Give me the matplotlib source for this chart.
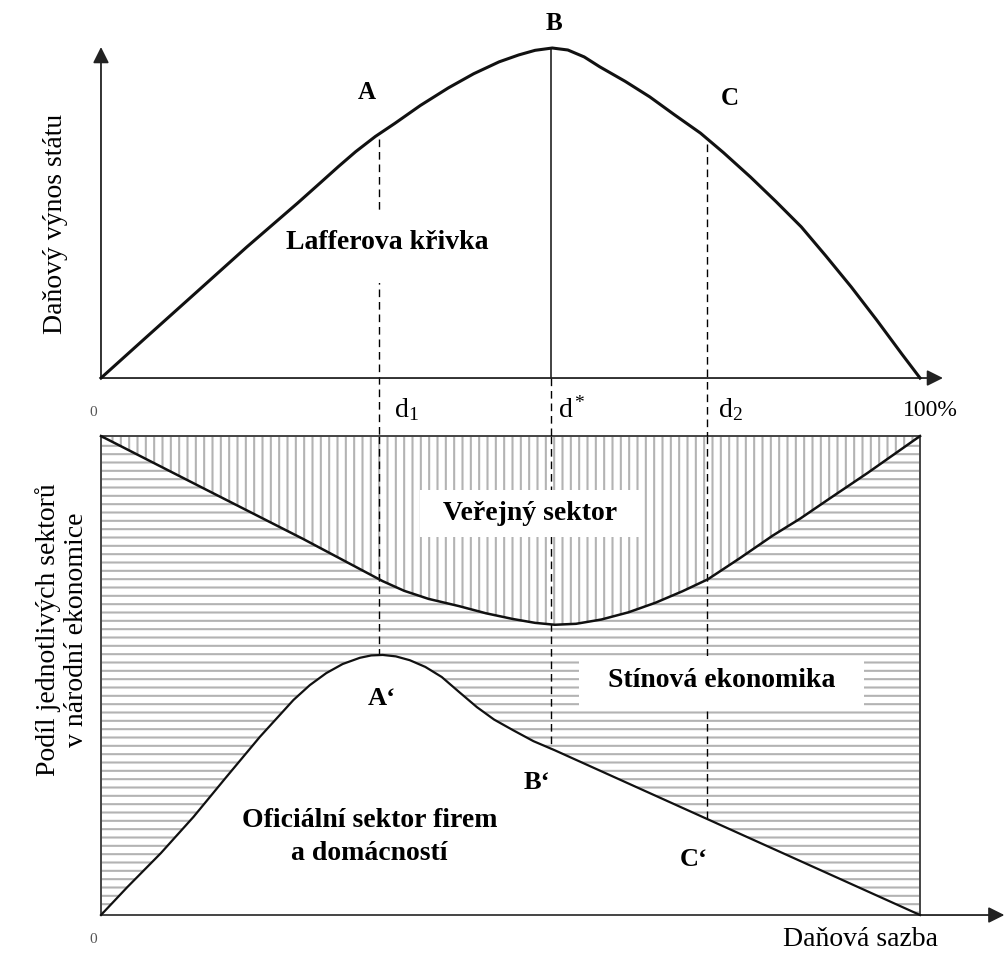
import numpy as np
import matplotlib.pyplot as plt
from matplotlib.patches import Rectangle

plt.rcParams['font.family'] = ['Liberation Serif', 'DejaVu Serif']
plt.rcParams['mathtext.fontset'] = 'custom'
plt.rcParams['mathtext.rm'] = 'Liberation Serif'
plt.rcParams['mathtext.it'] = 'Liberation Serif:italic'
plt.rcParams['hatch.linewidth'] = 1.5
plt.rcParams['hatch.color'] = '#b3b3b3'

# Horni graf - Lafferova krivka (danova sazba v %, vynos v % maxima)
sazba_laffer = [0, 5.5, 11.7, 17.8, 24.0, 26.8, 29.0, 31.1, 33.5, 35.9, 39.0,
                42.4, 45.5, 48.6, 51.0, 53.0, 55.1, 57.0, 59.0, 60.9, 64.0,
                67.0, 70.0, 73.2, 76.0, 79.3, 82.4, 85.5, 88.5, 91.6, 94.7,
                97.8, 100]
vynos = [0, 12.3, 26.1, 39.7, 53.0, 59.2, 64.1, 68.6, 73.2, 77.2, 82.6,
         87.9, 92.2, 95.8, 97.9, 99.3, 100, 99.4, 97.3, 94.3, 89.9,
         85.2, 79.8, 74.2, 68.3, 60.9, 53.5, 45.8, 37.0, 27.6, 17.6,
         7.2, 0]

# Dolni graf - hranice verejneho sektoru (shora) a oficialniho sektoru (zdola)
sazba_verejny = [0, 12.5, 24.7, 34.4, 37.0, 40.0, 43.7, 47.0, 50.3, 53.0,
                 55.4, 58.0, 61.1, 64.4, 67.7, 71.0, 74.1, 78.0, 82.0, 85.4,
                 89.0, 93.6, 100]
hranice_verejny = [100, 89.1, 78.5, 69.7, 67.7, 66.0, 64.5, 63.0, 61.8, 61.0,
                   60.6, 60.8, 61.7, 63.2, 65.2, 67.6, 70.1, 74.5, 79.2, 82.8,
                   87.0, 92.3, 100]
sazba_oficialni = [0, 3.2, 7.3, 11.3, 15.3, 19.4, 23.5, 25.5, 27.5, 29.5,
                   31.6, 33.0, 34.4, 36.0, 37.7, 39.6, 41.6, 43.7, 45.9, 48.0,
                   50.3, 52.8, 55.4, 100]
podil_oficialni = [0, 5.8, 12.9, 20.5, 28.8, 37.2, 44.9, 48.0, 50.5, 52.4,
                   53.7, 54.2, 54.3, 54.0, 53.2, 51.8, 49.7, 46.6, 43.4, 40.8,
                   38.6, 36.3, 34.4, 0]

d1, d_opt, d2 = 34, 55, 74

fig = plt.figure(figsize=(10.08, 9.6), dpi=100)
ax2 = fig.add_axes([0, 0, 1, 0.5833])
ax1 = fig.add_axes([0, 0.5833, 1, 0.4167])
for ax in (ax1, ax2):
    ax.set_xlim(-12.33, 110.74)
    ax.axis('off')
    ax.patch.set_visible(False)
ax1.set_ylim(-6.67, 114.55)
ax2.set_ylim(-9.39, 107.52)

dash = (0, (5.5, 3.5))
arrow = dict(arrowstyle='-|>', color='#222222', lw=1.3, mutation_scale=24,
             shrinkA=0, shrinkB=0)
bold = dict(fontweight='bold', ha='center', va='center')

# --- horni graf ---
ax1.plot(sazba_laffer, vynos, color='#111111', lw=2.2, zorder=5,
         solid_joinstyle='round')
ax1.annotate('', xy=(0, 100.3), xytext=(0, 0), arrowprops=arrow)
ax1.annotate('', xy=(102.8, 0), xytext=(0, 0), arrowprops=arrow)
for d in (d1, d2):
    ax1.plot([d, d], [np.interp(d, sazba_laffer, vynos) - 1.5, -17.6],
             color='black', lw=1.0, ls=dash, clip_on=False, zorder=2)
ax1.plot([d_opt, d_opt], [max(vynos), 0], color='#222222', lw=1.2, zorder=2)
ax1.plot([d_opt, d_opt], [0, -17.6], color='black', lw=1.0, ls=dash,
         clip_on=False, zorder=2)

ax1.add_patch(Rectangle((22, 28.8), 26, 21.5, facecolor='white',
                        edgecolor='none', zorder=3))
ax1.text(35.0, 41.2, 'Lafferova křivka', size=20, zorder=6, **bold)
ax1.text(32.5, 86.4, 'A', size=18, **bold)
ax1.text(55.3, 107.3, 'B', size=18, **bold)
ax1.text(76.8, 84.8, 'C', size=18, **bold)
ax1.text(-5.6, 46.7, 'Daňový výnos státu', size=20, rotation=90,
         ha='center', va='center')
ax1.text(-1.0, -10.3, '0', size=11, color='#555555', ha='center', va='center')
ax1.text(35.8, -9.7, r'$\mathrm{d}_1$', size=20, ha='left', va='center')
ax1.text(55.8, -9.7, r'$\mathrm{d}^*$', size=20, ha='left', va='center')
ax1.text(75.3, -9.7, r'$\mathrm{d}_2$', size=20, ha='left', va='center')
ax1.text(101.2, -9.7, '100%', size=17, ha='center', va='center')

# --- dolni graf ---
ax2.fill(sazba_verejny, hranice_verejny, facecolor='white',
         edgecolor='#b3b3b3', hatch='||', lw=0, zorder=1)
stin_x = sazba_verejny + sazba_oficialni[::-1]
stin_y = hranice_verejny + podil_oficialni[::-1]
ax2.fill(stin_x, stin_y, facecolor='white', edgecolor='#b3b3b3',
         hatch='--', lw=0, zorder=1)
ax2.plot(sazba_verejny, hranice_verejny, color='#111111', lw=1.8, zorder=5,
         solid_joinstyle='round')
ax2.plot(sazba_oficialni, podil_oficialni, color='#111111', lw=1.6, zorder=5,
         solid_joinstyle='round')
ax2.add_patch(Rectangle((0, 0), 100, 100, fill=False, edgecolor='#444444',
                        lw=1.4, zorder=4))
ax2.annotate('', xy=(110.3, 0), xytext=(100, 0), arrowprops=arrow)

for d in (d1, d_opt, d2):
    ax2.plot([d, d], [100, np.interp(d, sazba_oficialni, podil_oficialni)],
             color='black', lw=1.0, ls=dash, zorder=2)

ax2.add_patch(Rectangle((38.9, 78.9), 27.3, 9.8, facecolor='white',
                        edgecolor='none', zorder=3))
ax2.add_patch(Rectangle((58.4, 43.4), 34.8, 10.7, facecolor='white',
                        edgecolor='none', zorder=3))
ax2.text(52.4, 83.9, 'Veřejný sektor', size=20, zorder=6, **bold)
ax2.text(75.8, 48.9, 'Stínová ekonomika', size=20, zorder=6, **bold)
ax2.text(32.8, 16.3, 'Oficiální sektor firem\na domácností', size=20,
         linespacing=1.45, zorder=6, **bold)
ax2.text(34.3, 45.3, 'A‘', size=19, zorder=6, **bold)
ax2.text(53.2, 27.6, 'B‘', size=19, zorder=6, **bold)
ax2.text(72.4, 11.5, 'C‘', size=19, zorder=6, **bold)

ax2.text(-4.8, 59.5, 'Podíl jednotlivých sektorů\nv národní ekonomice',
         size=20, rotation=90, ha='center', va='center', linespacing=1.15)
ax2.text(-1.0, -5.2, '0', size=11, color='#555555', ha='center', va='center')
ax2.text(92.7, -5.2, 'Daňová sazba', size=20, ha='center', va='center')

plt.savefig('out.png', dpi=100, facecolor='white')
